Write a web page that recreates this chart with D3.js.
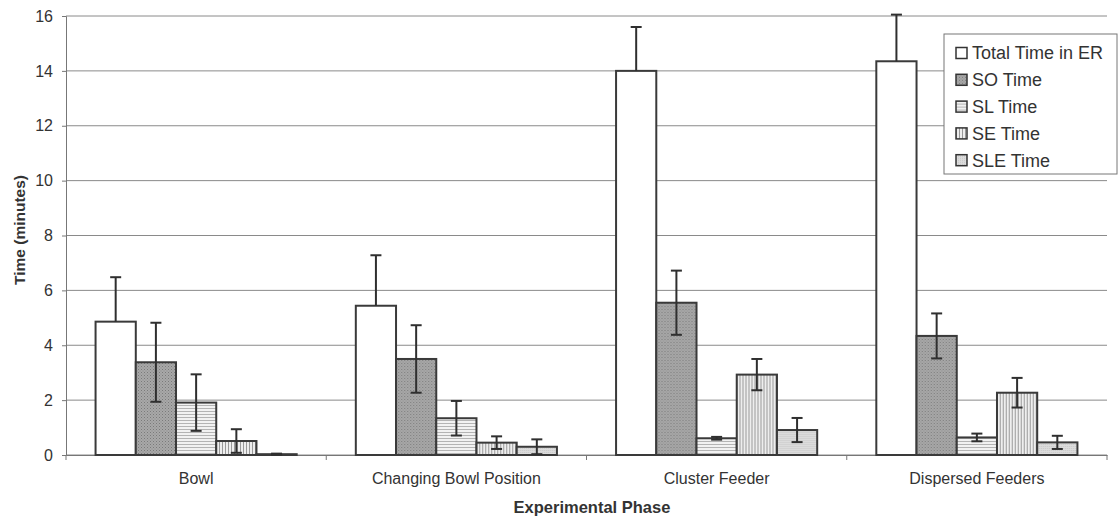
<!DOCTYPE html>
<html lang="en">
<head>
<meta charset="UTF-8">
<title>Time in ER by phase</title>
<script src="https://cdn.jsdelivr.net/npm/d3@7"></script>
<style>
  body { margin: 0; background: #fff; }
  svg text { font-family: "Liberation Sans", Arial, sans-serif; fill: #333; }
</style>
</head>
<body>
<svg id="chart"></svg>
<script>
// data
var phases = ["Bowl", "Changing Bowl Position", "Cluster Feeder", "Dispersed Feeders"];
var seriesNames = ["Total Time in ER", "SO Time", "SL Time", "SE Time", "SLE Time"];
var totalTime = [4.86, 5.44, 14.0, 14.35];
var soTime = [3.38, 3.50, 5.55, 4.34];
var slTime = [1.91, 1.34, 0.61, 0.64];
var seTime = [0.51, 0.45, 2.93, 2.27];
var sleTime = [0.03, 0.30, 0.91, 0.46];
var totalErr = [1.62, 1.84, 1.6, 1.7];
var soErr = [1.44, 1.23, 1.17, 0.82];
var slErr = [1.03, 0.63, 0.05, 0.14];
var seErr = [0.43, 0.23, 0.57, 0.54];
var sleErr = [0.02, 0.27, 0.44, 0.24];
var yTicks = [0, 2, 4, 6, 8, 10, 12, 14, 16];

drawChart();

function drawChart() {
  var values = [totalTime, soTime, slTime, seTime, sleTime];
  var errors = [totalErr, soErr, slErr, seErr, sleErr];
  var fills = ["#fff", "url(#pSO)", "url(#pSL)", "url(#pSE)", "url(#pSLE)"];

  var width = 1120, height = 518;
  var plotLeft = 66, plotRight = 1107, plotTop = 16, plotBottom = 455;

  var svg = d3.select("#chart").attr("width", width).attr("height", height);

  // fill patterns
  var defs = svg.append("defs");
  var pSO = defs.append("pattern").attr("id", "pSO").attr("patternUnits", "userSpaceOnUse")
    .attr("width", 3).attr("height", 3);
  pSO.append("rect").attr("width", 3).attr("height", 3).attr("fill", "#a8a8a8");
  pSO.append("rect").attr("x", 0).attr("y", 0).attr("width", 1).attr("height", 1).attr("fill", "#7a7a7a");
  pSO.append("rect").attr("x", 1.5).attr("y", 1.5).attr("width", 1).attr("height", 1).attr("fill", "#8a8a8a");

  var pSL = defs.append("pattern").attr("id", "pSL").attr("patternUnits", "userSpaceOnUse")
    .attr("width", 4).attr("height", 3);
  pSL.append("rect").attr("width", 4).attr("height", 3).attr("fill", "#f2f2f2");
  pSL.append("rect").attr("y", 0).attr("width", 4).attr("height", 1).attr("fill", "#b4b4b4");

  var pSE = defs.append("pattern").attr("id", "pSE").attr("patternUnits", "userSpaceOnUse")
    .attr("width", 3).attr("height", 4);
  pSE.append("rect").attr("width", 3).attr("height", 4).attr("fill", "#eeeeee");
  pSE.append("rect").attr("x", 0).attr("width", 1).attr("height", 4).attr("fill", "#999");

  var pSLE = defs.append("pattern").attr("id", "pSLE").attr("patternUnits", "userSpaceOnUse")
    .attr("width", 2).attr("height", 2);
  pSLE.append("rect").attr("width", 2).attr("height", 2).attr("fill", "#dcdcdc");
  pSLE.append("rect").attr("width", 1).attr("height", 1).attr("fill", "#c8c8c8");

  // scales
  var x = d3.scaleBand().domain(phases).range([plotLeft, plotRight]).paddingInner(0).paddingOuter(0);
  var xs = d3.scaleBand().domain(d3.range(seriesNames.length)).range([0, x.bandwidth()])
    .paddingInner(0).paddingOuter(0.735);
  var y = d3.scaleLinear().domain([0, 16]).range([plotBottom, plotTop]);

  // gridlines
  svg.append("g").selectAll("line").data(yTicks).enter().append("line")
    .attr("x1", plotLeft).attr("x2", plotRight)
    .attr("y1", d => y(d)).attr("y2", d => y(d))
    .attr("stroke", "#8a8a8a").attr("stroke-width", 1);

  // y axis
  var yAxis = svg.append("g").attr("transform", "translate(" + plotLeft + ",0)")
    .call(d3.axisLeft(y).tickValues(yTicks).tickSize(4).tickPadding(9));
  yAxis.select(".domain").attr("stroke", "#777");
  yAxis.selectAll(".tick line").attr("stroke", "#777");
  yAxis.selectAll("text").style("font-size", "16px").attr("fill", "#333");

  // x axis
  var xAxis = svg.append("g").attr("transform", "translate(0," + plotBottom + ")")
    .call(d3.axisBottom(x).tickSize(0).tickPadding(18));
  xAxis.select(".domain").attr("stroke", "#777");
  xAxis.selectAll("text").style("font-size", "16px").attr("fill", "#333");
  svg.append("g").selectAll("line").data(phases.concat(["end"])).enter().append("line")
    .attr("x1", (d, i) => i < phases.length ? x(d) : plotRight)
    .attr("x2", (d, i) => i < phases.length ? x(d) : plotRight)
    .attr("y1", plotBottom).attr("y2", plotBottom + 5).attr("stroke", "#777");

  // bars
  var groups = svg.append("g").selectAll("g").data(phases).enter().append("g")
    .attr("transform", d => "translate(" + x(d) + ",0)");

  seriesNames.forEach(function (name, s) {
    groups.append("rect")
      .attr("x", xs(s))
      .attr("y", (d, i) => y(values[s][i]))
      .attr("width", xs.bandwidth())
      .attr("height", (d, i) => y(0) - y(values[s][i]))
      .attr("fill", fills[s])
      .attr("stroke", "#3a3a3a").attr("stroke-width", 2);
  });

  // error bars
  seriesNames.forEach(function (name, s) {
    var cx = xs(s) + xs.bandwidth() / 2;
    groups.each(function (d, i) {
      var g = d3.select(this);
      var v = values[s][i], e = errors[s][i];
      var hi = v + e, lo = s === 0 ? v : Math.max(0, v - e);
      g.append("line").attr("x1", cx).attr("x2", cx).attr("y1", y(hi)).attr("y2", y(lo))
        .attr("stroke", "#2f2f2f").attr("stroke-width", 2);
      g.append("line").attr("x1", cx - 5.5).attr("x2", cx + 5.5).attr("y1", y(hi)).attr("y2", y(hi))
        .attr("stroke", "#2f2f2f").attr("stroke-width", 2);
      if (s !== 0) {
        g.append("line").attr("x1", cx - 5.5).attr("x2", cx + 5.5).attr("y1", y(lo)).attr("y2", y(lo))
          .attr("stroke", "#2f2f2f").attr("stroke-width", 2);
      }
    });
  });

  // axis titles
  svg.append("text").attr("x", 592).attr("y", 513)
    .attr("text-anchor", "middle").style("font-size", "16.5px").style("font-weight", "bold")
    .text("Experimental Phase");
  svg.append("text").attr("transform", "translate(25,230) rotate(-90)")
    .attr("text-anchor", "middle").style("font-size", "15.5px").style("font-weight", "bold")
    .text("Time (minutes)");

  // legend
  var legend = svg.append("g").attr("transform", "translate(944,34)");
  legend.append("rect").attr("width", 173).attr("height", 140)
    .attr("fill", "#fff").attr("stroke", "#777").attr("stroke-width", 1);
  var items = legend.selectAll("g.item").data(seriesNames).enter().append("g")
    .attr("class", "item")
    .attr("transform", (d, i) => "translate(12," + (19 + i * 26.8) + ")");
  items.append("rect").attr("x", 0).attr("y", -5.5).attr("width", 11).attr("height", 11)
    .attr("fill", (d, i) => fills[i]).attr("stroke", "#333").attr("stroke-width", 1.5);
  items.append("text").attr("x", 16).attr("y", 0).attr("dy", "0.36em")
    .style("font-size", "18px").text(d => d);
}
</script>
</body>
</html>
